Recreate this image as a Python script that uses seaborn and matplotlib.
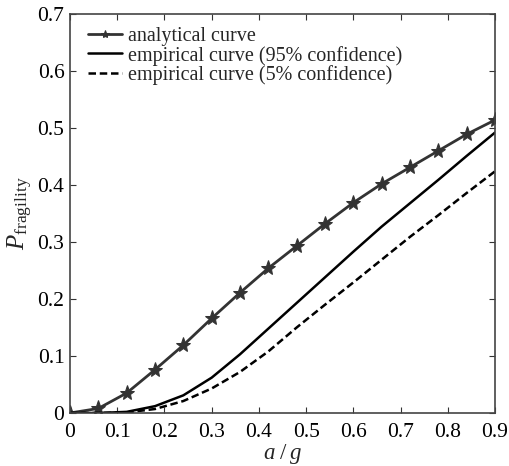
import numpy as np
import pandas as pd
import matplotlib
matplotlib.use("Agg")
import matplotlib.pyplot as plt
import seaborn as sns

a_g = [0.0, 0.06, 0.12, 0.18, 0.24, 0.30, 0.36, 0.42, 0.48, 0.54, 0.60, 0.66, 0.72, 0.78, 0.84, 0.90]
analytical = [0.0, 0.008, 0.035, 0.076, 0.119, 0.166, 0.211, 0.254, 0.293, 0.332, 0.369, 0.402, 0.431, 0.460, 0.489, 0.514]
emp95 = [0.0, 0.0, 0.002, 0.012, 0.031, 0.062, 0.103, 0.148, 0.193, 0.238, 0.283, 0.327, 0.368, 0.409, 0.451, 0.492]
emp5 = [0.0, 0.0, 0.001, 0.007, 0.021, 0.043, 0.072, 0.108, 0.150, 0.190, 0.229, 0.269, 0.309, 0.347, 0.386, 0.424]
labels = ["analytical curve", "empirical curve (95% confidence)", "empirical curve (5% confidence)"]
xticks = [0, 0.1, 0.2, 0.3, 0.4, 0.5, 0.6, 0.7, 0.8, 0.9]
xticklabels = ["0", "0.1", "0.2", "0.3", "0.4", "0.5", "0.6", "0.7", "0.8", "0.9"]
yticks = [0, 0.1, 0.2, 0.3, 0.4, 0.5, 0.6, 0.7]
yticklabels = ["0", "0.1", "0.2", "0.3", "0.4", "0.5", "0.6", "0.7"]

sns.set_style("ticks")
plt.rcParams["font.family"] = ["Liberation Serif", "DejaVu Serif"]
plt.rcParams["mathtext.fontset"] = "custom"
plt.rcParams["mathtext.rm"] = "Liberation Serif"
plt.rcParams["mathtext.it"] = "Liberation Serif:italic"

df = pd.DataFrame({"x": a_g, "ana": analytical, "e95": emp95, "e5": emp5})

fig = plt.figure(figsize=(5.10, 4.66), dpi=100)
ax = fig.add_axes([70 / 510, (466 - 413) / 466, (495 - 70) / 510, (413 - 14) / 466])

sns.lineplot(data=df, x="x", y="ana", ax=ax, color="#333333", lw=2.0, marker="*",
             markersize=11, markeredgecolor="#333333", label=labels[0])
sns.lineplot(data=df, x="x", y="e95", ax=ax, color="black", lw=1.8, label=labels[1])
sns.lineplot(data=df, x="x", y="e5", ax=ax, color="black", lw=1.8, ls=(0, (3, 1.5)), label=labels[2])

ax.set_xlim(0, 0.9)
ax.set_ylim(0, 0.7)
ax.set_xticks(xticks)
ax.set_xticklabels(xticklabels)
ax.set_yticks(yticks)
ax.set_yticklabels(yticklabels)
ax.tick_params(direction="in", length=4, width=0.8, top=True, right=True,
               labelsize=15.5, colors="#333333", labelcolor="black")
ax.tick_params(axis="y", pad=4)
ax.tick_params(axis="x", pad=7)
for s in ax.spines.values():
    s.set_color("#444444")
    s.set_linewidth(1.2)

ax.set_xlabel(r"$a\;/\;g$", fontsize=16.5, labelpad=0)
ax.set_ylabel(r"$P_{\mathrm{fragility}}$", fontsize=18, labelpad=2)

ax.legend(loc="upper left", bbox_to_anchor=(0.01, 1.004), frameon=False, fontsize=14.5,
          handlelength=1.65, handletextpad=0.3, labelspacing=0.0, borderaxespad=0.3,
          markerscale=0.55)

fig.savefig("out.png", dpi=100)
